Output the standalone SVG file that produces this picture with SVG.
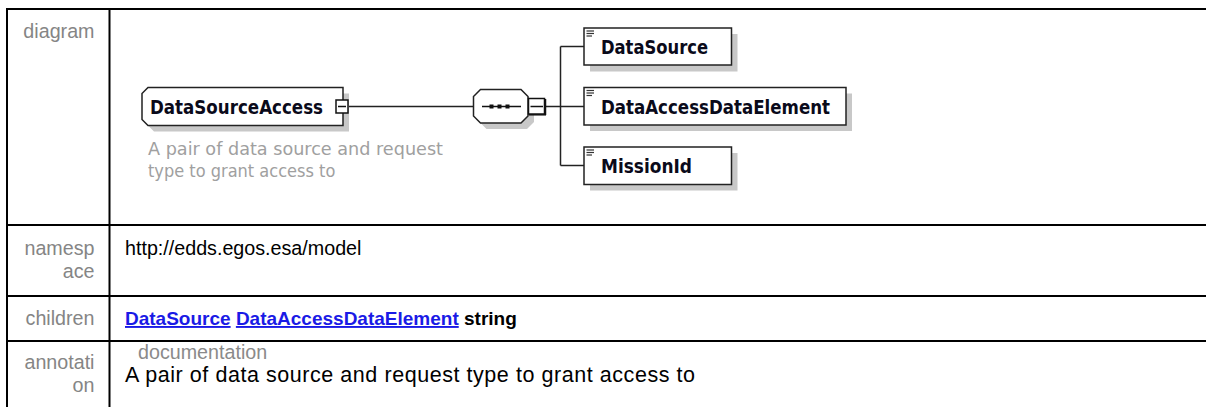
<svg xmlns="http://www.w3.org/2000/svg" width="1206" height="407" viewBox="0 0 1206 407">
  <defs>
    <style>
      .grid { stroke: #000; stroke-width: 2; fill: none; }
      .lbl { font-family: "Liberation Sans", Arial, sans-serif; font-size: 19.7px; fill: #858585; text-anchor: end; }
      .val { font-family: "Liberation Sans", Arial, sans-serif; font-size: 19.7px; fill: #000; }
      .note { font-family: "Liberation Sans", Arial, sans-serif; font-size: 21.5px; fill: #000; }
      .doc { font-family: "Liberation Sans", Arial, sans-serif; font-size: 19.7px; fill: #8a8a8a; }
      .link { font-family: "Liberation Sans", Arial, sans-serif; font-size: 19px; font-weight: bold; fill: #1a1ae6; text-decoration: underline; }
      .bold { font-family: "Liberation Sans", Arial, sans-serif; font-size: 19px; font-weight: bold; fill: #000; }
      .name { font-family: "DejaVu Sans Condensed", "DejaVu Sans", sans-serif; font-stretch: condensed; font-size: 19px; font-weight: bold; fill: #0a0a1a; }
      .desc { font-family: "DejaVu Sans Condensed", "DejaVu Sans", sans-serif; font-stretch: condensed; font-size: 18px; fill: #a0a0a0; }
      .box { fill: #fff; stroke: #222; stroke-width: 1.5; }
      .shadow { fill: #c8c8c8; stroke: none; }
      .wire { stroke: #222; stroke-width: 1.5; fill: none; }
      .icon { stroke: #333; stroke-width: 1.2; }
    </style>
  </defs>

  <!-- table frame -->
  <g id="table">
    <line class="grid" x1="6" y1="9" x2="1206" y2="9"/>
    <line class="grid" x1="7" y1="8" x2="7" y2="407"/>
    <line class="grid" x1="109.5" y1="8" x2="109.5" y2="407"/>
    <line class="grid" x1="6" y1="225" x2="1206" y2="225"/>
    <line class="grid" x1="6" y1="296" x2="1206" y2="296"/>
    <line class="grid" x1="6" y1="341" x2="1206" y2="341"/>
  </g>

  <!-- row headings -->
  <g id="headings">
    <text class="lbl" x="94.5" y="37.5">diagram</text>
    <text class="lbl" x="94.5" y="255">namesp</text>
    <text class="lbl" x="94.5" y="278">ace</text>
    <text class="lbl" x="94.5" y="325">children</text>
    <text class="lbl" x="94.5" y="369">annotati</text>
    <text class="lbl" x="94.5" y="392">on</text>
  </g>

  <!-- row values -->
  <g id="values">
    <text class="val" x="125" y="255">http://edds.egos.esa/model</text>
    <text x="125" y="325"><tspan class="link">DataSource</tspan><tspan class="bold"> </tspan><tspan class="link">DataAccessDataElement</tspan><tspan class="bold"> string</tspan></text>
    <text class="doc" x="138" y="359">documentation</text>
    <text class="note" x="125" y="382" textLength="570" lengthAdjust="spacing">A pair of data source and request type to grant access to</text>
  </g>

  <!-- connectors -->
  <g id="connectors">
    <line class="wire" x1="348" y1="106.5" x2="473.5" y2="106.5"/>
    <line class="wire" x1="546" y1="106.5" x2="584" y2="106.5"/>
    <line class="wire" x1="560.5" y1="46.5" x2="560.5" y2="165.5"/>
    <line class="wire" x1="560.5" y1="46.5" x2="584" y2="46.5"/>
    <line class="wire" x1="560.5" y1="165.5" x2="584" y2="165.5"/>
  </g>

  <!-- root element -->
  <g id="node-DataSourceAccess">
    <polygon class="shadow" points="154,93.5 349,93.5 349,131.5 154,131.5 148,125.5 148,99.5"/>
    <polygon class="box" points="148,87.5 343,87.5 343,125.5 148,125.5 142,119.5 142,93.5"/>
    <text class="name" x="150" y="114" textLength="173" lengthAdjust="spacingAndGlyphs">DataSourceAccess</text>
    <rect x="336" y="100" width="12" height="13" fill="#fff" stroke="#111" stroke-width="1.5"/>
    <line x1="338" y1="106.5" x2="346" y2="106.5" stroke="#111" stroke-width="1.5"/>
    <text class="desc" x="148" y="155" textLength="295" lengthAdjust="spacingAndGlyphs">A pair of data source and request</text>
    <text class="desc" x="148" y="176.5">type to grant access to</text>
  </g>

  <!-- sequence compositor -->
  <g id="node-sequence">
    <polygon class="shadow" points="486.5,95.5 527,95.5 534,102.5 534,122 527,129 486.5,129 479.5,122 479.5,102.5"/>
    <polygon class="box" points="480.5,89.5 521,89.5 528,96.5 528,116 521,123 480.5,123 473.5,116 473.5,96.5"/>
    <line x1="482" y1="106.5" x2="521" y2="106.5" stroke="#111" stroke-width="1.5"/>
    <rect x="489.5" y="104.5" width="4" height="4" fill="#111"/>
    <rect x="497.5" y="104.5" width="4" height="4" fill="#111"/>
    <rect x="505.5" y="104.5" width="4" height="4" fill="#111"/>
    <rect x="528.5" y="98.5" width="16" height="15.5" fill="#fff" stroke="#111" stroke-width="1.5"/>
    <line x1="545.5" y1="99" x2="545.5" y2="115" stroke="#111" stroke-width="1.5"/>
    <line x1="529" y1="114.8" x2="546" y2="114.8" stroke="#111" stroke-width="1.5"/>
    <line x1="530.5" y1="106.5" x2="543" y2="106.5" stroke="#111" stroke-width="1.5"/>
  </g>

  <!-- child elements -->
  <g id="node-DataSource">
    <rect class="shadow" x="590" y="34" width="147.5" height="37.5"/>
    <rect class="box" x="584" y="28" width="147.5" height="37"/>
    <g class="icon"><line x1="586.5" y1="31" x2="594" y2="31"/><line x1="586.5" y1="33.5" x2="594" y2="33.5"/><line x1="586.5" y1="36" x2="592" y2="36"/></g>
    <text class="name" x="601" y="54" textLength="107" lengthAdjust="spacingAndGlyphs">DataSource</text>
  </g>
  <g id="node-DataAccessDataElement">
    <rect class="shadow" x="590" y="93.5" width="262" height="37.5"/>
    <rect class="box" x="584" y="87.5" width="262" height="37.5"/>
    <g class="icon"><line x1="586.5" y1="90.5" x2="594" y2="90.5"/><line x1="586.5" y1="93" x2="594" y2="93"/><line x1="586.5" y1="95.5" x2="592" y2="95.5"/></g>
    <text class="name" x="601" y="113.5" textLength="229" lengthAdjust="spacingAndGlyphs">DataAccessDataElement</text>
  </g>
  <g id="node-MissionId">
    <rect class="shadow" x="590" y="153" width="147.5" height="37.5"/>
    <rect class="box" x="584" y="147" width="147.5" height="37.5"/>
    <g class="icon"><line x1="586.5" y1="150" x2="594" y2="150"/><line x1="586.5" y1="152.5" x2="594" y2="152.5"/><line x1="586.5" y1="155" x2="592" y2="155"/></g>
    <text class="name" x="601" y="173" textLength="91" lengthAdjust="spacingAndGlyphs">MissionId</text>
  </g>
</svg>
